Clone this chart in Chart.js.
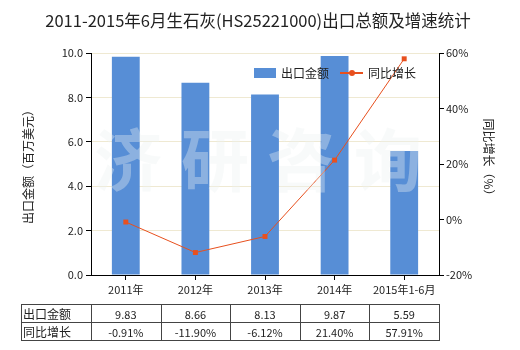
<!DOCTYPE html>
<html><head><meta charset="utf-8">
<script src="https://cdn.jsdelivr.net/npm/chart.js@4"></script>
<style>html,body{margin:0;padding:0;background:#fff;}#wrap{width:520px;height:350px;}</style>
</head><body><div id="wrap"><canvas id="c" width="520" height="350"></canvas></div>
<script>
const categories = ['2011年','2012年','2013年','2014年','2015年1-6月'];
const exportValues = [9.83, 8.66, 8.13, 9.87, 5.59];
const growthValues = [-0.91, -11.90, -6.12, 21.40, 57.91];
const exportLabels = ['9.83','8.66','8.13','9.87','5.59'];
const growthLabels = ['-0.91%','-11.90%','-6.12%','21.40%','57.91%'];
const seriesNames = ['出口金额','同比增长'];
const titleText = '2011-2015年6月生石灰(HS25221000)出口总额及增速统计';
const leftTitle = '出口金额（百万美元）';
const rightTitle = '同比增长（%）';
const watermark = ['济','研','咨','询'];

const FONT = '"Noto Sans CJK SC", "Noto Sans", sans-serif';
const BAR = '#578ed6';
const LINE = '#e8501e';

const L = 91, R = 439, T = 53, B = 275;

const decor = {
  id: 'decor',
  beforeDraw(chart) {
    const ctx = chart.ctx;
    ctx.save();
    ctx.fillStyle = '#fff';
    ctx.fillRect(0, 0, chart.width, chart.height);
    ctx.restore();
  },
  afterDatasetsDraw(chart) {
    const ctx = chart.ctx;
    ctx.save();
    ctx.font = 'bold 68px ' + FONT;
    ctx.fillStyle = 'rgba(236,242,240,0.36)';
    ctx.textAlign = 'center';
    ctx.textBaseline = 'middle';
    const cx = [128, 215, 301, 388];
    watermark.forEach((w, i) => ctx.fillText(w, cx[i], 160));
    ctx.restore();
  },
  afterDraw(chart) {
    const ctx = chart.ctx;
    const a = chart.chartArea;
    const xs = chart.scales.x;
    ctx.save();
    ctx.fillStyle = '#222';
    ctx.font = '16.5px ' + FONT;
    ctx.textAlign = 'center';
    ctx.textBaseline = 'middle';
    ctx.fillText(titleText, 258, 21);
    ctx.font = '12px ' + FONT;
    ctx.fillStyle = '#222';
    ctx.save();
    ctx.translate(28, (a.top + a.bottom) / 2);
    ctx.rotate(-Math.PI / 2);
    ctx.fillText(leftTitle, 0, 0);
    ctx.restore();
    ctx.save();
    ctx.translate(489, (a.top + a.bottom) / 2 - 4);
    ctx.rotate(Math.PI / 2);
    ctx.fillText(rightTitle, 0, 0);
    ctx.restore();
    // legend
    ctx.font = '12px ' + FONT;
    ctx.textAlign = 'left';
    ctx.fillStyle = BAR;
    ctx.fillRect(254, 68, 22, 10);
    ctx.fillStyle = '#222';
    ctx.fillText(seriesNames[0], 281, 73);
    ctx.strokeStyle = LINE;
    ctx.lineWidth = 2;
    ctx.beginPath(); ctx.moveTo(340, 73); ctx.lineTo(363, 73); ctx.stroke();
    ctx.fillStyle = LINE;
    ctx.beginPath(); ctx.arc(352, 73, 3, 0, Math.PI * 2); ctx.fill();
    ctx.fillStyle = '#222';
    ctx.fillText(seriesNames[1], 368, 73);
    // table
    const top = 304, mid = 322, bot = 340, left = 21;
    const edges = [left];
    const half = (xs.getPixelForValue(1) - xs.getPixelForValue(0)) / 2;
    for (let i = 0; i < categories.length; i++) {
      const c = xs.getPixelForValue(i);
      if (i === 0) edges.push(c - half);
      edges.push(c + half);
    }
    ctx.strokeStyle = '#444';
    ctx.lineWidth = 1;
    ctx.beginPath();
    [top, mid, bot].forEach(y => { ctx.moveTo(left, y + 0.5); ctx.lineTo(Math.round(edges[edges.length - 1]) + 0.5, y + 0.5); });
    edges.forEach(x => { const px = Math.round(x) + 0.5; ctx.moveTo(px, top); ctx.lineTo(px, bot + 1); });
    ctx.stroke();
    ctx.fillStyle = '#222';
    ctx.font = '12px ' + FONT;
    ctx.textAlign = 'left';
    ctx.fillText(seriesNames[0], left + 2, (top + mid) / 2 + 1);
    ctx.fillText(seriesNames[1], left + 2, (mid + bot) / 2 + 1);
    ctx.textAlign = 'center';
    ctx.font = '11px ' + FONT;
    for (let i = 0; i < categories.length; i++) {
      const c = xs.getPixelForValue(i);
      ctx.fillText(exportLabels[i], c, (top + mid) / 2 + 2);
      ctx.fillText(growthLabels[i], c, (mid + bot) / 2 + 2);
    }
    ctx.restore();
  }
};

new Chart(document.getElementById('c'), {
  data: {
    labels: categories,
    datasets: [
      {
        type: 'line', label: seriesNames[1], data: growthValues, yAxisID: 'y1',
        borderColor: LINE, backgroundColor: LINE, borderWidth: 1,
        pointStyle: 'rect', pointRadius: 3.5, pointBorderWidth: 0,
        tension: 0, order: 0
      },
      {
        type: 'bar', label: seriesNames[0], data: exportValues, yAxisID: 'y',
        backgroundColor: BAR, barPercentage: 0.4, categoryPercentage: 1.0, order: 1
      }
    ]
  },
  options: {
    responsive: false,
    animation: false,
    devicePixelRatio: 1,
    layout: { padding: { top: T, left: 0, right: 0, bottom: 0 } },
    plugins: { legend: { display: false }, title: { display: false }, tooltip: { enabled: false } },
    scales: {
      x: {
        offset: true,
        afterFit(s) { s.height = 350 - B; },
        grid: { offset: false, drawOnChartArea: false, tickLength: 5, color: '#000', tickColor: '#000' },
        border: { color: '#000', width: 1 },
        ticks: { color: '#222', font: { family: FONT, size: 11 }, padding: 3, maxRotation: 0, autoSkip: false }
      },
      y: {
        position: 'left', min: 0, max: 10,
        afterFit(s) { s.width = L; },
        grid: { color: '#efe9d2', tickLength: 5, tickColor: '#000' },
        border: { color: '#000', width: 1 },
        ticks: { stepSize: 2, color: '#222', font: { family: FONT, size: 11 }, padding: 3,
          callback: v => v.toFixed(1) }
      },
      y1: {
        position: 'right', min: -20, max: 60,
        afterFit(s) { s.width = 520 - R; },
        grid: { drawOnChartArea: false, tickLength: 5, tickColor: '#000' },
        border: { color: '#000', width: 1 },
        ticks: { stepSize: 20, color: '#222', font: { family: FONT, size: 11 }, padding: 2,
          callback: v => v + '%' }
      }
    }
  },
  plugins: [decor]
});
</script></body></html>
